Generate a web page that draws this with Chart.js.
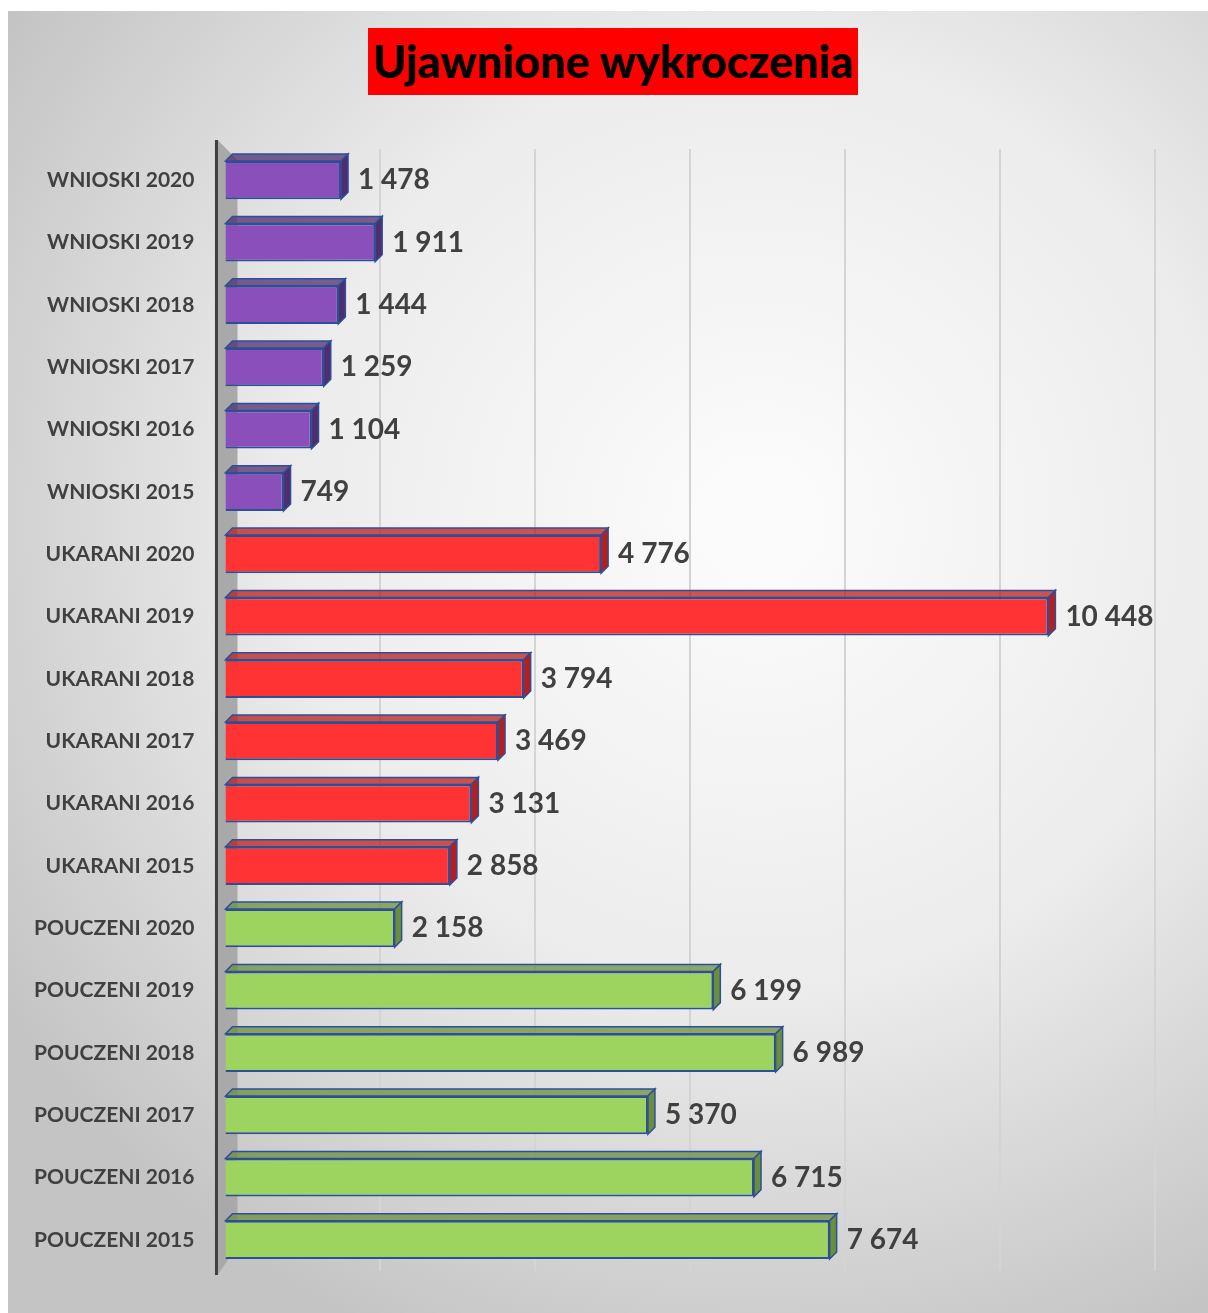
<!DOCTYPE html>
<html>
<head>
<meta charset="utf-8">
<script src="https://cdn.jsdelivr.net/npm/chart.js@4"></script>
<style>
  body { margin: 0; background: #fff; }
  #wrap { position: relative; width: 1208px; height: 1313px; }
  #title {
    position: absolute; left: 368px; top: 28px; width: 490px; height: 67px;
    background: #ff0000; color: #000; font: 900 45px Lato, "Open Sans", sans-serif;
    text-align: center; line-height: 67px; z-index: 2;
  }
</style>
</head>
<body>
<div id="wrap">
  <div id="title">Ujawnione wykroczenia</div>
  <canvas id="chart" width="1208" height="1313"></canvas>
</div>
<script>
// years shown top to bottom inside each group
const years = [2020, 2019, 2018, 2017, 2016, 2015];
// values
const wnioski = [1478, 1911, 1444, 1259, 1104, 749];
const ukarani = [4776, 10448, 3794, 3469, 3131, 2858];
const pouczeni = [2158, 6199, 6989, 5370, 6715, 7674];
const groups = ['WNIOSKI', 'UKARANI', 'POUCZENI'];
const groupColors = ['#8a4fba', '#ff3333', '#9cd45f'];
const groupDark = ['#4f2d6e', '#b81e1e', '#6a8f3c'];

// build labels and values in drawing order
const labels = [];
const values = [];
const colors = [];
const darks = [];
[wnioski, ukarani, pouczeni].forEach((arr, g) => {
  arr.forEach((v, i) => {
    labels.push(groups[g] + ' ' + years[i]);
    values.push(v);
    colors.push(groupColors[g]);
    darks.push(groupDark[g]);
  });
});

function fmt(n) {
  return String(n).replace(/\B(?=(\d{3})+(?!\d))/g, ' ');
}

const DEPTH = 7;

// background + axis wall
const bgPlugin = {
  id: 'bg',
  beforeDraw(chart) {
    const ctx = chart.ctx;
    const w = chart.width, h = chart.height;
    ctx.save();
    ctx.fillStyle = '#fff';
    ctx.fillRect(0, 0, w, h);
    const g = ctx.createRadialGradient(760, 520, 40, 760, 520, 900);
    g.addColorStop(0, '#fbfbfb');
    g.addColorStop(0.5, '#ececec');
    g.addColorStop(1, '#c4c4c4');
    ctx.fillStyle = g;
    ctx.fillRect(8, 11, w - 8, h - 11);
    const a = chart.chartArea;
    // gray wall
    ctx.fillStyle = '#a9a9a9';
    ctx.beginPath();
    ctx.moveTo(a.left - 7, a.top - 9);
    ctx.lineTo(a.left + 13, a.top + 11);
    ctx.lineTo(a.left + 13, a.bottom - 25);
    ctx.lineTo(a.left - 7, a.bottom + 4);
    ctx.closePath();
    ctx.fill();
    ctx.restore();
  },
  afterDraw(chart) {
    const ctx = chart.ctx;
    const a = chart.chartArea;
    ctx.save();
    ctx.strokeStyle = '#404040';
    ctx.lineWidth = 3;
    ctx.beginPath();
    ctx.moveTo(a.left - 8, a.top - 9);
    ctx.lineTo(a.left - 8, a.bottom + 4);
    ctx.stroke();
    ctx.restore();
  }
};

// 3D faces + value labels
const box3d = {
  id: 'box3d',
  afterDatasetsDraw(chart) {
    const ctx = chart.ctx;
    const meta = chart.getDatasetMeta(0);
    ctx.save();
    meta.data.forEach((bar, i) => {
      const x0 = bar.base, x1 = bar.x;
      const yT = bar.y - bar.height / 2, yB = bar.y + bar.height / 2;
      ctx.strokeStyle = '#2e4f96';
      ctx.lineWidth = 1.5;
      // top face
      ctx.fillStyle = darks[i];
      ctx.globalAlpha = 0.75;
      ctx.beginPath();
      ctx.moveTo(x0, yT);
      ctx.lineTo(x0 + DEPTH, yT - DEPTH);
      ctx.lineTo(x1 + DEPTH, yT - DEPTH);
      ctx.lineTo(x1, yT);
      ctx.closePath();
      ctx.fill();
      ctx.globalAlpha = 1;
      ctx.stroke();
      // right face
      ctx.fillStyle = darks[i];
      ctx.beginPath();
      ctx.moveTo(x1, yT);
      ctx.lineTo(x1 + DEPTH, yT - DEPTH);
      ctx.lineTo(x1 + DEPTH, yB - DEPTH);
      ctx.lineTo(x1, yB);
      ctx.closePath();
      ctx.fill();
      ctx.stroke();
      // value label
      ctx.fillStyle = '#404040';
      ctx.font = 'bold 28px Lato, "Open Sans", sans-serif';
      ctx.textBaseline = 'middle';
      ctx.textAlign = 'left';
      ctx.fillText(fmt(values[i]), x1 + DEPTH + 10, bar.y);
    });
    ctx.restore();
  }
};

new Chart(document.querySelector('#chart'), {
  type: 'bar',
  data: {
    labels: labels,
    datasets: [{
      data: values,
      backgroundColor: colors,
      borderColor: '#2e4f96',
      borderWidth: 2,
      barPercentage: 0.68,
      categoryPercentage: 0.9
    }]
  },
  options: {
    indexAxis: 'y',
    responsive: false,
    animation: false,
    layout: { padding: { top: 149, right: 53, bottom: 42, left: 12 } },
    plugins: {
      legend: { display: false },
      title: { display: false },
      tooltip: { enabled: false }
    },
    scales: {
      x: {
        min: 0,
        max: 11800,
        ticks: { display: false, stepSize: 2000 },
        border: { display: false },
        grid: {
          color: ctx => ctx.tick && ctx.tick.value === 0 ? 'rgba(0,0,0,0)' : '#d4d4d4',
          lineWidth: 2,
          drawTicks: false
        }
      },
      y: {
        border: { display: false },
        grid: { display: false },
        ticks: {
          color: '#404040',
          padding: 22,
          font: { family: 'Lato, "Open Sans", sans-serif', size: 21, weight: 'bold' }
        }
      }
    }
  },
  plugins: [bgPlugin, box3d]
});
</script>
</body>
</html>
